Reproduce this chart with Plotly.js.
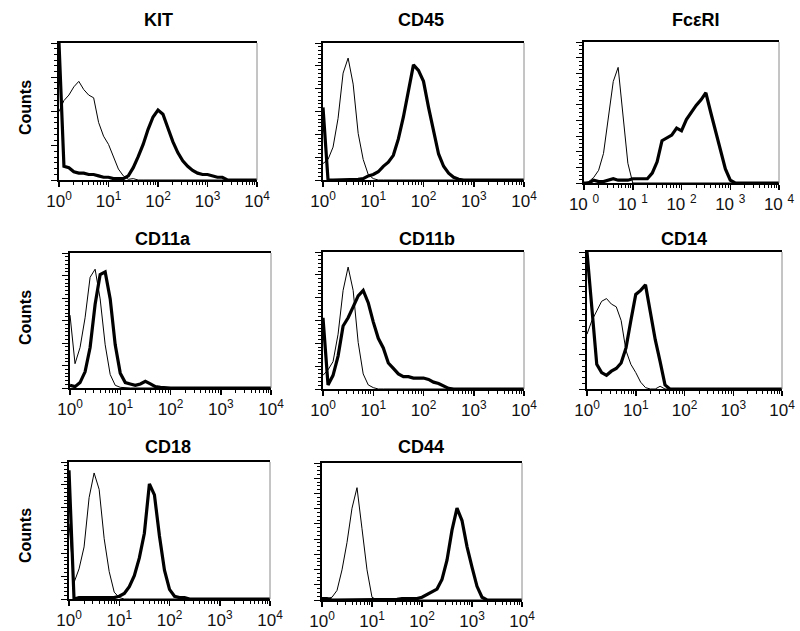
<!DOCTYPE html>
<html>
<head>
<meta charset="utf-8">
<script src="https://cdn.plot.ly/plotly-3.0.1.min.js"></script>
<style>
html, body { margin: 0; padding: 0; background: #ffffff; }
#chart { width: 800px; height: 631px; }
</style>
</head>
<body>
<div id="chart"></div>
<script>
// Fluorescence channel bin centres (log scale, 10^0 .. 10^4)
const channels = [1, 1.259, 1.585, 1.995, 2.512, 3.162, 3.981, 5.012, 6.31, 7.943,
  10, 12.59, 15.85, 19.95, 25.12, 31.62, 39.81, 50.12, 63.1, 79.43,
  100, 125.9, 158.5, 199.5, 251.2, 316.2, 398.1, 501.2, 631, 794.3,
  1000, 1259, 1585, 1995, 2512, 3162, 3981, 5012, 6310, 7943, 10000];

const panelTitles = ['KIT', 'CD45', 'FcεRI', 'CD11a', 'CD11b', 'CD14', 'CD18', 'CD44'];

// Counts (% of panel height) – thin line = isotype control, thick line = specific stain
const isoKIT   = [50,58,62,68,72,66,62,60,42,32,26,17,8,3,0.5,1,0,0,0,0,0,0,0,0,0,0,0,0,0,0,0,0,0,0,0,0,0,0,0,0,0];
const stainKIT = [100,10,9,6,5,5,4,4,3,2,2,1,1,1,3,9,17,26,37,46,51,48,38,28,20,14,10,7,5,4,4,3,2,2,0,0,0,0,0,0,0];

const isoCD45   = [12,15,24,45,78,89,70,34,15,4,1,0,0,0,0,0,0,0,0,0,0,0,0,0,0,0,0,0,0,0,0,0,0,0,0,0,0,0,0,0,0];
const stainCD45 = [53,0,0,0,0,0,0,0.5,1,3,4,6,10,13,18,30,46,66,84,80,72,53,35,19,10,5,2,0.5,0,0,0,0,0,0,0,0,0,0,0,0,0];

const isoFcERI   = [0,1,4,9,21,47,72,82,48,14,0,0,0,0,0,0,0,0,0,0,0,0,0,0,0,0,0,0,0,0,0,0,0,0,0,0,0,0,0,0,0];
const stainFcERI = [0,0,2,1,1,2,3,2,2,2,3,3,3,3,7,15,30,32,34,39,37,45,50,55,59,64,50,37,22,10,2,0,0,0,0,0,0,0,0,0,0];

const isoCD11a   = [54,18,30,52,82,88,66,32,10,2,0.5,0,0,0,0,0,0,0,0,0,0,0,0,0,0,0,0,0,0,0,0,0,0,0,0,0,0,0,0,0,0];
const stainCD11a = [2,1,4,12,30,62,84,86,66,32,11,4,3,2,3,5,3,1,0.5,0,0,0,0,0,0,0,0,0,0,0,0,0,0,0,0,0,0,0,0,0,0];

const isoCD11b   = [10,14,20,40,72,89,72,34,11,3,1,0,0,0,0,0,0,0,0,0,0,0,0,0,0,0,0,0,0,0,0,0,0,0,0,0,0,0,0,0,0];
const stainCD11b = [52,3,10,24,46,52,60,68,72,63,49,37,30,19,15,11,9,9,8,8,8,7,5,4,2,0.5,0,0,0,0,0,0,0,0,0,0,0,0,0,0,0];

const isoCD14   = [40,50,57,64,66,62,60,50,28,18,12,5,1,0,0,2,0,0,0,0,0,0,0,0,0,0,0,0,0,0,0,0,0,0,0,0,0,0,0,0,0];
const stainCD14 = [100,62,18,12,10,13,15,19,30,50,69,72,76,56,36,20,3,0,0,0,0,0,0,0,0,0,0,0,0,0,0,0,0,0,0,0,0,0,0,0,0];

const isoCD18   = [55,12,22,38,74,92,80,44,20,5,1,0,0,0,0,0,0,0,0,0,0,0,0,0,0,0,0,0,0,0,0,0,0,0,0,0,0,0,0,0,0];
const stainCD18 = [94,0,1,1,1,0.5,0.5,1,1,1,2,4,9,17,30,48,84,76,46,21,7,2,1,1,0,0,0,0,0,0,0,0,0,0,0,0,0,0,0,0,0];

const isoCD44   = [1,1,2,7,22,42,67,82,52,22,2,0,0,0,0,0,0,0,0,0,0,0,0,0,0,0,0,0,0,0,0,0,0,0,0,0,0,0,0,0,0];
const stainCD44 = [1,1,0,0,0,0,0,0,0,0,0,0,0,0.5,0.5,0.5,1,1,0.5,1,2,4,6,8,15,29,51,67,58,39,24,10,2,0,0,0,0,0,0,0,0];

const isoSeries   = [isoKIT, isoCD45, isoFcERI, isoCD11a, isoCD11b, isoCD14, isoCD18, isoCD44];
const stainSeries = [stainKIT, stainCD45, stainFcERI, stainCD11a, stainCD11b, stainCD14, stainCD18, stainCD44];

// Tick labels
const xTickVals = [1, 10, 100, 1000, 10000];
const xTickText = ['10<sup>0</sup>', '10<sup>1</sup>', '10<sup>2</sup>', '10<sup>3</sup>', '10<sup>4</sup>'];
const xTickTextSpaced = ['10 <sup>0</sup>', '10 <sup>1</sup>', '10 <sup>2</sup>', '10 <sup>3</sup>', '10 <sup>4</sup>'];
const xMinorVals = [2,3,4,5,6,7,8,9,20,30,40,50,60,70,80,90,200,300,400,500,600,700,800,900,2000,3000,4000,5000,6000,7000,8000,9000];
const yLabel = 'Counts';

// ---- layout geometry (pixels) ----
const W = 800, H = 631;
const boxes = [
  [59, 257, 43, 180], [323, 524, 43, 180], [584, 779, 42, 183],
  [70, 271, 253, 388], [323, 524, 252, 389], [587, 782, 252, 389],
  [69, 270, 462, 599], [322, 522, 463, 600]
];
const yTickSteps = [[25, 6], [100/6, 6], [100/9, 4], [100/6, 6], [100/6, 6], [25, 6], [100/6, 6], [100/9, 4]];
const titlePos = [[158, 20], [421, 20], [696, 20], [163, 239], [427, 239], [684, 239], [168, 447], [421, 447]];
const countsPos = [[25, 108], [25, 318], [25, 536]];

const FONT = 'Arial, "Liberation Sans", sans-serif';

const traces = [];
const layout = {
  width: W, height: H,
  margin: {l: 0, r: 0, t: 0, b: 0},
  paper_bgcolor: '#ffffff', plot_bgcolor: '#ffffff',
  showlegend: false,
  font: {family: FONT, color: '#000000', size: 16},
  annotations: [], shapes: []
};

panelTitles.forEach((title, i) => {
  const n = i + 1;
  const xa = n === 1 ? 'x' : 'x' + n;
  const ya = n === 1 ? 'y' : 'y' + n;
  traces.push({
    type: 'scatter', mode: 'lines', x: channels, y: isoSeries[i],
    xaxis: xa, yaxis: ya, line: {color: '#000000', width: 1}, hoverinfo: 'skip'
  });
  traces.push({
    type: 'scatter', mode: 'lines', x: channels, y: stainSeries[i],
    xaxis: xa, yaxis: ya, line: {color: '#000000', width: 3.2}, hoverinfo: 'skip'
  });
  const b = boxes[i];
  const [maj, sub] = yTickSteps[i];
  layout[n === 1 ? 'xaxis' : 'xaxis' + n] = {
    type: 'log', range: [0, 4], anchor: ya,
    domain: [b[0] / W, b[1] / W],
    tickmode: 'array', tickvals: xTickVals,
    ticktext: i === 2 ? xTickTextSpaced : xTickText,
    ticks: 'outside', ticklen: 5, tickwidth: 1.5, tickcolor: '#000000',
    tickfont: {family: FONT, size: 17, color: '#111111'},
    minor: {tickmode: 'array', tickvals: xMinorVals, ticks: 'outside', ticklen: 3, tickwidth: 1, tickcolor: '#000000'},
    showline: true, linecolor: '#000000', linewidth: 2, mirror: true,
    showgrid: false, zeroline: false, fixedrange: true
  };
  layout[n === 1 ? 'yaxis' : 'yaxis' + n] = {
    range: [0, 100], anchor: xa,
    domain: [1 - b[3] / H, 1 - b[2] / H],
    tickmode: 'linear', tick0: 0, dtick: maj,
    ticks: 'outside', ticklen: 6, tickwidth: 1, tickcolor: '#000000',
    minor: {tickmode: 'linear', tick0: 0, dtick: maj / sub, ticks: 'outside', ticklen: 3, tickwidth: 1, tickcolor: '#000000'},
    showticklabels: false,
    showline: true, linecolor: '#000000', linewidth: 2, mirror: false,
    showgrid: false, zeroline: false, fixedrange: true
  };
  layout.shapes.push({
    type: 'line', xref: xa + ' domain', yref: ya + ' domain',
    x0: 1, x1: 1, y0: 0, y1: 1, line: {color: '#8a8a8a', width: 1}
  });
  layout.annotations.push({
    text: '<b>' + title + '</b>', xref: 'paper', yref: 'paper',
    x: titlePos[i][0] / W, y: 1 - titlePos[i][1] / H,
    xanchor: 'center', yanchor: 'middle', showarrow: false,
    font: {family: FONT, size: 18, color: '#000000'}
  });
});

countsPos.forEach(p => {
  layout.annotations.push({
    text: '<b>' + yLabel + '</b>', xref: 'paper', yref: 'paper',
    x: p[0] / W, y: 1 - p[1] / H, textangle: -90,
    xanchor: 'center', yanchor: 'middle', showarrow: false,
    font: {family: FONT, size: 16, color: '#000000'}
  });
});

Plotly.newPlot('chart', traces, layout, {staticPlot: true, displayModeBar: false});
</script>
</body>
</html>
